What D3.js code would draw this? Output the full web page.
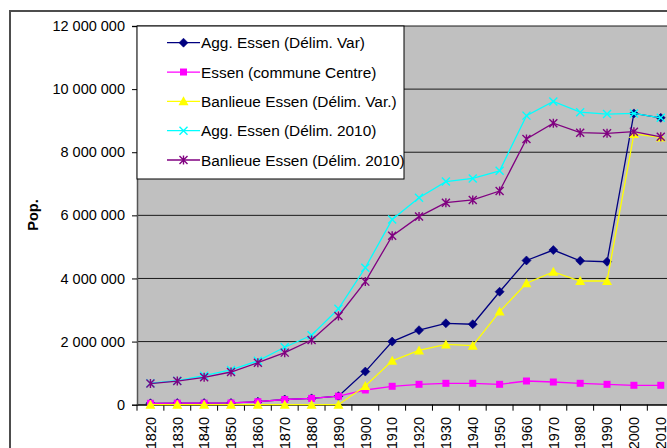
<!DOCTYPE html>
<html>
<head>
<meta charset="utf-8">
<script src="https://cdn.jsdelivr.net/npm/d3@7"></script>
<style>
  html, body { margin: 0; padding: 0; background: #fff; }
  svg { display: block; font-family: "Liberation Sans", Arial, sans-serif; }
</style>
</head>
<body>
<svg id="chart" width="667" height="448"></svg>
<script>
// Census years
const years = [1820, 1830, 1840, 1850, 1860, 1870, 1880, 1890, 1900, 1910,
               1920, 1930, 1940, 1950, 1960, 1970, 1980, 1990, 2000, 2010];

// Population series
const aggVar = [45000, 50000, 50000, 55000, 95000, 165000, 200000, 270000, 1050000, 2000000,
                2360000, 2580000, 2550000, 3580000, 4570000, 4900000, 4560000, 4530000, 9230000, 9090000];
const communeCentre = [45000, 50000, 50000, 55000, 95000, 165000, 200000, 270000, 466000, 583000,
                       646000, 678000, 678000, 646000, 751000, 719000, 678000, 646000, 615000, 615000];
const banlieueVar = [0, 0, 0, 0, 0, 0, 0, 0, 593000, 1390000,
                     1720000, 1910000, 1870000, 2950000, 3850000, 4210000, 3920000, 3920000, 8580000, 8470000];
const agg2010 = [680000, 760000, 920000, 1100000, 1390000, 1820000, 2200000, 3040000, 4340000, 5870000,
                 6560000, 7070000, 7170000, 7410000, 9160000, 9610000, 9270000, 9210000, 9230000, 9090000];
const banlieue2010 = [670000, 750000, 868000, 1036000, 1330000, 1650000, 2050000, 2810000, 3900000, 5350000,
                      5960000, 6400000, 6490000, 6770000, 8420000, 8920000, 8620000, 8600000, 8650000, 8490000];

const yTicks = [0, 2000000, 4000000, 6000000, 8000000, 10000000, 12000000];

const series = [
  { name: "Agg. Essen (Délim. Var)",      values: aggVar,        color: "#000080", marker: "diamond" },
  { name: "Essen (commune Centre)",       values: communeCentre, color: "#FF00FF", marker: "square" },
  { name: "Banlieue Essen (Délim. Var.)", values: banlieueVar,   color: "#FFFF00", marker: "triangle" },
  { name: "Agg. Essen (Délim. 2010)",     values: agg2010,       color: "#00FFFF", marker: "cross" },
  { name: "Banlieue Essen (Délim. 2010)", values: banlieue2010,  color: "#800080", marker: "star" }
];

const svg = d3.select("#chart");

// Plot geometry
const plotLeft = 137, plotTop = 26, plotBottom = 404.7;
const band = 26.86;
const plotRight = plotLeft + band * years.length;

const x = d3.scaleBand().domain(years).range([plotLeft, plotRight]).padding(0);
const y = d3.scaleLinear().domain([0, 12000000]).range([plotBottom, plotTop]);
const cx = d => x(d) + x.bandwidth() / 2;

// Chart frame
svg.append("rect")
  .attr("x", 10).attr("y", 11).attr("width", 700).attr("height", 480)
  .attr("fill", "#fff").attr("stroke", "#4d4d4d").attr("stroke-width", 2);

// Plot background
svg.append("rect")
  .attr("x", plotLeft).attr("y", plotTop)
  .attr("width", plotRight - plotLeft).attr("height", plotBottom - plotTop)
  .attr("fill", "#C0C0C0");

// Gridlines
svg.append("g").selectAll("line").data(yTicks).join("line")
  .attr("x1", plotLeft).attr("x2", plotRight)
  .attr("y1", d => y(d)).attr("y2", d => y(d))
  .attr("stroke", "#1a1a1a").attr("stroke-width", 1);

// Axes
const fmt = v => d3.format(",")(v).replace(/,/g, " ");
const yAxis = d3.axisLeft(y).tickValues(yTicks).tickFormat(fmt).tickSize(5).tickPadding(7);
const gy = svg.append("g").attr("transform", `translate(${plotLeft},0)`).call(yAxis);
gy.select(".domain").attr("stroke", "#555").attr("stroke-width", 1.5);
gy.selectAll(".tick line").attr("stroke", "#000");
gy.selectAll(".tick text").attr("font-size", "14.5px").attr("fill", "#000")
  .attr("font-family", "Liberation Sans, Arial, sans-serif");

// Category axis: tick marks on band boundaries
const xAxis = d3.axisBottom(x).tickSize(0).tickFormat("");
const gx = svg.append("g").attr("transform", `translate(0,${plotBottom})`).call(xAxis);
gx.select(".domain").attr("stroke", "#000").attr("stroke-width", 1);
svg.append("g").selectAll("line").data(years.slice(1)).join("line")
  .attr("x1", d => x(d)).attr("x2", d => x(d))
  .attr("y1", plotBottom).attr("y2", plotBottom + 6)
  .attr("stroke", "#000");
svg.append("line").attr("x1", plotLeft).attr("x2", plotLeft)
  .attr("y1", plotBottom).attr("y2", plotBottom + 6).attr("stroke", "#000");

svg.append("g").selectAll("text").data(years).join("text")
  .attr("transform", d => `translate(${cx(d)},417) rotate(-90)`)
  .attr("text-anchor", "end").attr("dy", "0.36em")
  .attr("font-size", "14.5px").attr("fill", "#000")
  .text(d => d);

// Axis title
svg.append("text")
  .attr("transform", "translate(33,215) rotate(-90)")
  .attr("text-anchor", "middle").attr("dy", "0.36em")
  .attr("font-size", "14.5px").attr("font-weight", "bold")
  .text("Pop.");

// Marker drawing
function drawMarker(g, type, color) {
  if (type === "diamond") {
    g.append("path").attr("d", "M0,-4.5L4.5,0L0,4.5L-4.5,0Z")
      .attr("fill", color).attr("stroke", color).attr("stroke-width", 0.6);
  } else if (type === "square") {
    g.append("rect").attr("x", -3.5).attr("y", -3.5).attr("width", 7).attr("height", 7)
      .attr("fill", color);
  } else if (type === "triangle") {
    g.append("path").attr("d", "M0,-5L5,4L-5,4Z").attr("fill", color);
  } else if (type === "cross") {
    g.append("path").attr("d", "M-4,-4L4,4M-4,4L4,-4")
      .attr("stroke", color).attr("stroke-width", 1.4).attr("fill", "none");
  } else if (type === "star") {
    g.append("path").attr("d", "M-4,-4L4,4M-4,4L4,-4M0,-4.5L0,4.5")
      .attr("stroke", color).attr("stroke-width", 1.4).attr("fill", "none");
  }
}

// Series
const line = d3.line().x((d, i) => cx(years[i])).y(d => y(d));
series.forEach(s => {
  const g = svg.append("g");
  g.append("path").datum(s.values)
    .attr("d", line).attr("fill", "none")
    .attr("stroke", s.color).attr("stroke-width", 1.3);
  s.values.forEach((v, i) => {
    const m = g.append("g").attr("transform", `translate(${cx(years[i])},${y(v)})`);
    drawMarker(m, s.marker, s.color);
  });
});

// Legend
const legend = svg.append("g");
legend.append("rect")
  .attr("x", 137).attr("y", 26).attr("width", 267).attr("height", 153)
  .attr("fill", "#fff").attr("stroke", "#000").attr("stroke-width", 1);
const rowY = d3.scalePoint().domain(series.map(s => s.name)).range([42.7, 160]);
series.forEach(s => {
  const ry = rowY(s.name);
  legend.append("line").attr("x1", 167).attr("x2", 200).attr("y1", ry).attr("y2", ry)
    .attr("stroke", s.color).attr("stroke-width", 1.3);
  const m = legend.append("g").attr("transform", `translate(183.5,${ry})`);
  drawMarker(m, s.marker, s.color);
  legend.append("text").attr("x", 201).attr("y", ry).attr("dy", "0.36em")
    .attr("font-size", "15.4px").attr("fill", "#000").text(s.name);
});
</script>
</body>
</html>
